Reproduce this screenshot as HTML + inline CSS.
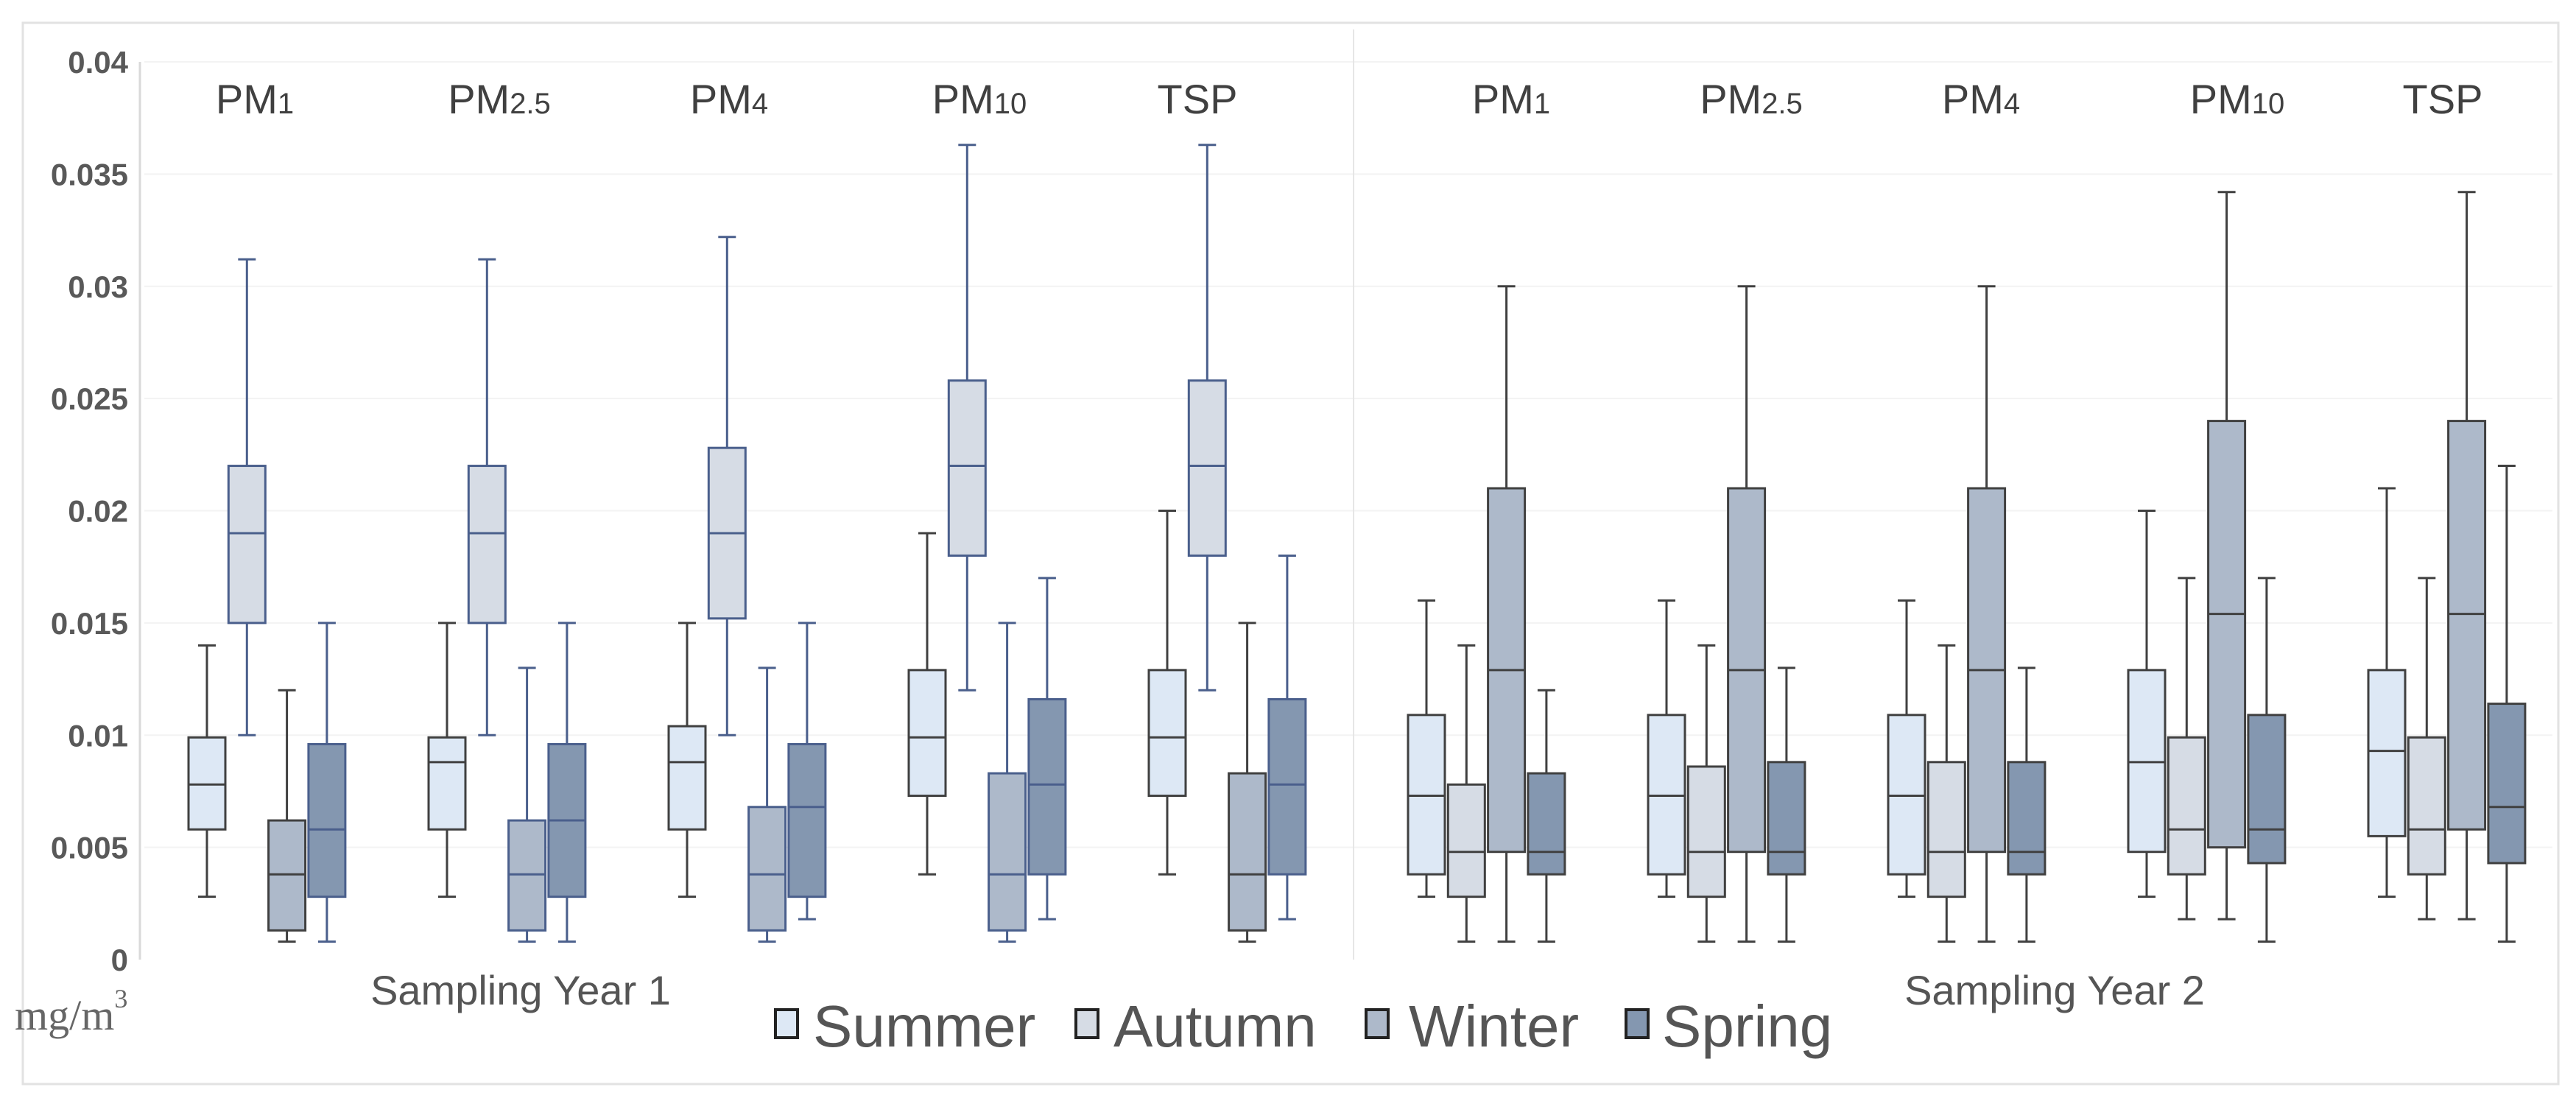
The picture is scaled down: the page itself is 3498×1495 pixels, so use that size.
<!DOCTYPE html>
<html><head><meta charset="utf-8"><style>
html,body{margin:0;padding:0;background:#fff;}
svg{display:block;}
</style></head><body>
<svg id="chart" width="3498" height="1495" viewBox="0 0 3498 1495" xmlns="http://www.w3.org/2000/svg">
<rect x="31" y="31" width="3443" height="1441" fill="#fff" stroke="#e2e2e2" stroke-width="3"/>
<g id="grid"></g>
<line x1="190" y1="84" x2="190" y2="1303" stroke="#d9d9d9" stroke-width="3"/>
<line x1="1838" y1="40" x2="1838" y2="1303" stroke="#e6e6e6" stroke-width="2"/>
<g id="yticks"></g>
<g id="labels"></g>
<g id="boxes"></g>
<text x="707" y="1364" font-family="Liberation Sans, sans-serif" font-size="56" fill="#555" text-anchor="middle">Sampling Year 1</text>
<text x="2790" y="1364" font-family="Liberation Sans, sans-serif" font-size="56" fill="#555" text-anchor="middle">Sampling Year 2</text>
<text x="20" y="1398" font-family="Liberation Serif, serif" font-size="58" fill="#666">mg/m<tspan dy="-30" font-size="36">3</tspan></text>
<g id="legend"></g>
</svg>
<script>
const seasons = ["Summer","Autumn","Winter","Spring"];
const pollutants = ["PM1","PM2.5","PM4","PM10","TSP"];
const yTicks = [0,0.005,0.01,0.015,0.02,0.025,0.03,0.035,0.04];
const yTickLabels = ["0","0.005","0.01","0.015","0.02","0.025","0.03","0.035","0.04"];
// [min, q1, median, q3, max] per pollutant, per season
const year1Summer = [[0.0028,0.0058,0.0078,0.0099,0.014],[0.0028,0.0058,0.0088,0.0099,0.015],[0.0028,0.0058,0.0088,0.0104,0.015],[0.0038,0.0073,0.0099,0.0129,0.019],[0.0038,0.0073,0.0099,0.0129,0.020]];
const year1Autumn = [[0.010,0.015,0.019,0.022,0.0312],[0.010,0.015,0.019,0.022,0.0312],[0.010,0.0152,0.019,0.0228,0.0322],[0.012,0.018,0.022,0.0258,0.0363],[0.012,0.018,0.022,0.0258,0.0363]];
const year1Winter = [[0.0008,0.0013,0.0038,0.0062,0.012],[0.0008,0.0013,0.0038,0.0062,0.013],[0.0008,0.0013,0.0038,0.0068,0.013],[0.0008,0.0013,0.0038,0.0083,0.015],[0.0008,0.0013,0.0038,0.0083,0.015]];
const year1Spring = [[0.0008,0.0028,0.0058,0.0096,0.015],[0.0008,0.0028,0.0062,0.0096,0.015],[0.0018,0.0028,0.0068,0.0096,0.015],[0.0018,0.0038,0.0078,0.0116,0.017],[0.0018,0.0038,0.0078,0.0116,0.018]];
const year2Summer = [[0.0028,0.0038,0.0073,0.0109,0.016],[0.0028,0.0038,0.0073,0.0109,0.016],[0.0028,0.0038,0.0073,0.0109,0.016],[0.0028,0.0048,0.0088,0.0129,0.020],[0.0028,0.0055,0.0093,0.0129,0.021]];
const year2Autumn = [[0.0008,0.0028,0.0048,0.0078,0.014],[0.0008,0.0028,0.0048,0.0086,0.014],[0.0008,0.0028,0.0048,0.0088,0.014],[0.0018,0.0038,0.0058,0.0099,0.017],[0.0018,0.0038,0.0058,0.0099,0.017]];
const year2Winter = [[0.0008,0.0048,0.0129,0.021,0.030],[0.0008,0.0048,0.0129,0.021,0.030],[0.0008,0.0048,0.0129,0.021,0.030],[0.0018,0.005,0.0154,0.024,0.0342],[0.0018,0.0058,0.0154,0.024,0.0342]];
const year2Spring = [[0.0008,0.0038,0.0048,0.0083,0.012],[0.0008,0.0038,0.0048,0.0088,0.013],[0.0008,0.0038,0.0048,0.0088,0.013],[0.0008,0.0043,0.0058,0.0109,0.017],[0.0008,0.0043,0.0068,0.0114,0.022]];

const NS="http://www.w3.org/2000/svg";
const fills=["#dde8f5","#d6dce5","#adb9ca","#8497b0"];
const y0=1303, yTop=84, vMax=0.04;
function yScale(v){return y0-(v/vMax)*(y0-yTop);}
const yearStart=[281,1937], groupStep=326, seasonStep=54.3, boxW=50;
function xScale(year,p,s){return yearStart[year]+p*groupStep+s*seasonStep;}
function mk(tag,attrs,parent){const e=document.createElementNS(NS,tag);for(const k in attrs)e.setAttribute(k,attrs[k]);parent.appendChild(e);return e;}

const grid=document.getElementById('grid'), yt=document.getElementById('yticks');
yTicks.forEach((t,i)=>{
  if(i>0){const l=mk('line',{x1:196,x2:3466,y1:yScale(t),y2:yScale(t),stroke:'#f3f3f3','stroke-width':2},grid);
  
  }
  const tx=mk('text',{x:174,y:yScale(t)+15,'text-anchor':'end','font-family':'Liberation Sans, sans-serif','font-size':42,'font-weight':'bold',fill:'#595959'},yt);
  tx.textContent=yTickLabels[i];
  
  
});

const labelX=[[346,678,990,1330,1626],[2052,2378,2690,3038,3317]];
const lg=document.getElementById('labels');
[0,1].forEach(yr=>pollutants.forEach((p,i)=>{
  const t=mk('text',{x:labelX[yr][i],y:154,'text-anchor':'middle','font-family':'Liberation Sans, sans-serif','font-size':56,fill:'#404040'},lg);
  
  
  if(p==='TSP'){t.textContent='TSP';}
  else{t.appendChild(document.createTextNode('PM'));const s=mk('tspan',{'font-size':40},t);s.textContent=p.slice(2);}
}));

const data=[[year1Summer,year1Autumn,year1Winter,year1Spring],[year2Summer,year2Autumn,year2Winter,year2Spring]];
const bg=document.getElementById('boxes');
data.forEach((yd,yr)=>yd.forEach((series,s)=>series.forEach((d,p)=>{
  const cx=xScale(yr,p,s);
  let stroke='#404040';
  if(yr===0&&(s===1||s===3||(s===2&&p>=1&&p<=3)))stroke='#4a5f8c';
  const g=mk('g',{},bg);
  
  
  mk('line',{x1:cx,x2:cx,y1:yScale(d[4]),y2:yScale(d[3]),stroke:stroke,'stroke-width':3},g);
  mk('line',{x1:cx,x2:cx,y1:yScale(d[1]),y2:yScale(d[0]),stroke:stroke,'stroke-width':3},g);
  mk('line',{x1:cx-12,x2:cx+12,y1:yScale(d[4]),y2:yScale(d[4]),stroke:stroke,'stroke-width':3},g);
  mk('line',{x1:cx-12,x2:cx+12,y1:yScale(d[0]),y2:yScale(d[0]),stroke:stroke,'stroke-width':3},g);
  mk('rect',{x:cx-boxW/2,y:yScale(d[3]),width:boxW,height:yScale(d[1])-yScale(d[3]),fill:fills[s],stroke:stroke,'stroke-width':3},g);
  mk('line',{x1:cx-boxW/2,x2:cx+boxW/2,y1:yScale(d[2]),y2:yScale(d[2]),stroke:stroke,'stroke-width':3},g);
})));

const leg=document.getElementById('legend');
const legSq=[1053,1461,1855,2208], legTx=[1104,1512,1913,2257];
seasons.forEach((s,i)=>{
  const r=mk('rect',{x:legSq[i],y:1371,width:30,height:38,fill:fills[i],stroke:'#222','stroke-width':4},leg);
  
  
  const t=mk('text',{x:legTx[i],y:1421,'font-family':'Liberation Sans, sans-serif','font-size':80,fill:'#555'},leg);
  t.textContent=s;
  
  
});
</script>
</body></html>
